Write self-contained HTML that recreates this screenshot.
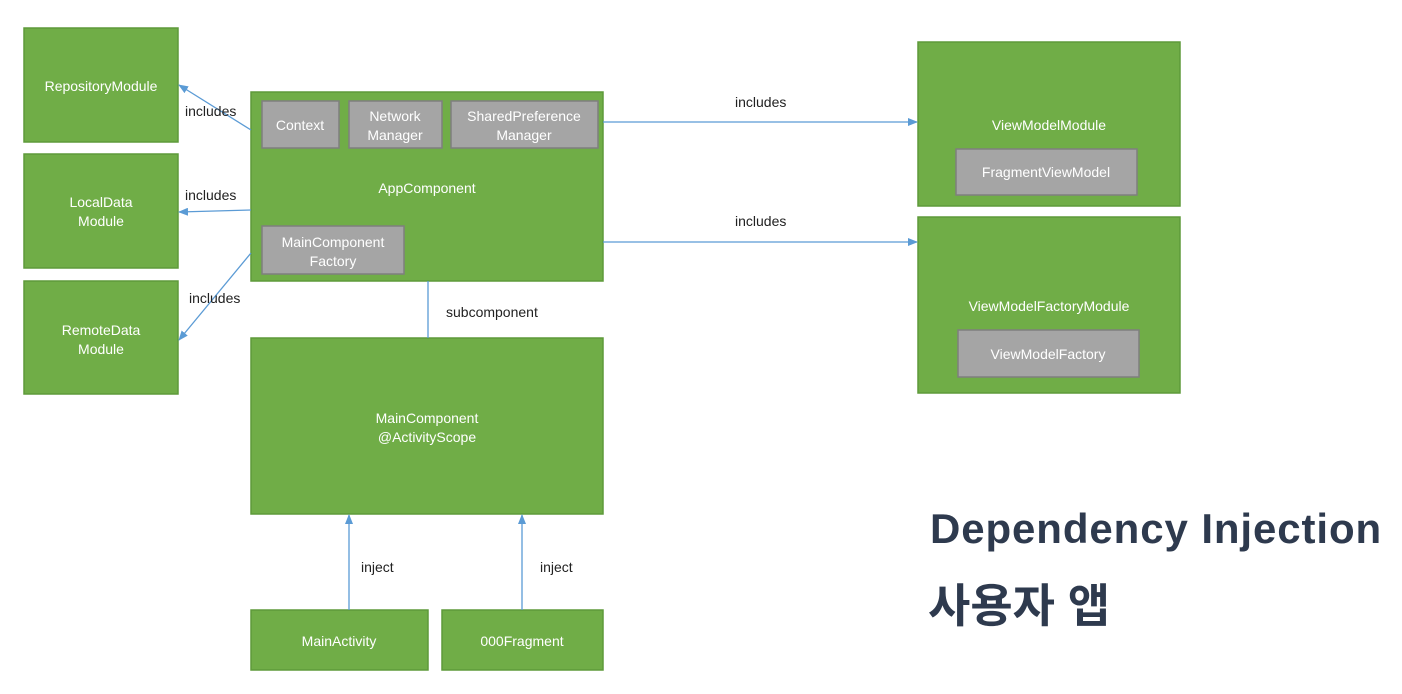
<!DOCTYPE html>
<html><head><meta charset="utf-8"><style>
html,body{margin:0;padding:0;background:#fff;width:1402px;height:694px;overflow:hidden}
svg text{font-family:"Liberation Sans","Noto Sans CJK KR",sans-serif}
</style></head><body>
<svg width="1402" height="694" viewBox="0 0 1402 694" xmlns="http://www.w3.org/2000/svg">
<defs><marker id="a" markerWidth="10" markerHeight="8" refX="9" refY="4" orient="auto" markerUnits="userSpaceOnUse"><path d="M0,0 L10,4 L0,8 z" fill="#5b9bd5"/></marker></defs>
<g fill="#70ad47" stroke="#5e9a3a" stroke-width="1.5">
<rect x="24" y="28" width="154" height="114"/>
<rect x="24" y="154" width="154" height="114"/>
<rect x="24" y="281" width="154" height="113"/>
<rect x="251" y="92" width="352" height="189"/>
<rect x="251" y="338" width="352" height="176"/>
<rect x="251" y="610" width="177" height="60"/>
<rect x="442" y="610" width="161" height="60"/>
<rect x="918" y="42" width="262" height="164"/>
<rect x="918" y="217" width="262" height="176"/>
</g>
<g fill="#a5a5a5" stroke="#7f7f7f" stroke-width="1.5">
<rect x="262" y="101" width="77" height="47"/>
<rect x="349" y="101" width="93" height="47"/>
<rect x="451" y="101" width="147" height="47"/>
<rect x="262" y="226" width="142" height="48"/>
<rect x="956" y="149" width="181" height="46"/>
<rect x="958" y="330" width="181" height="47"/>
</g>
<g stroke="#5b9bd5" stroke-width="1.3" fill="none">
<line x1="251" y1="130" x2="179" y2="85" marker-end="url(#a)"/>
<line x1="251" y1="210" x2="179" y2="212" marker-end="url(#a)"/>
<line x1="251" y1="253" x2="179" y2="340" marker-end="url(#a)"/>
<line x1="603" y1="122" x2="917" y2="122" marker-end="url(#a)"/>
<line x1="603" y1="242" x2="917" y2="242" marker-end="url(#a)"/>
<line x1="428" y1="281" x2="428" y2="338"/>
<line x1="349" y1="610" x2="349" y2="515" marker-end="url(#a)"/>
<line x1="522" y1="610" x2="522" y2="515" marker-end="url(#a)"/>
</g>
<g fill="#fff" font-size="14" text-anchor="middle">
<text x="101" y="91">RepositoryModule</text>
<text x="101" y="207">LocalData</text><text x="101" y="226">Module</text>
<text x="101" y="335">RemoteData</text><text x="101" y="354">Module</text>
<text x="427" y="193">AppComponent</text>
<text x="300" y="130">Context</text>
<text x="395" y="121">Network</text><text x="395" y="140">Manager</text>
<text x="524" y="121">SharedPreference</text><text x="524" y="140">Manager</text>
<text x="333" y="247">MainComponent</text><text x="333" y="266">Factory</text>
<text x="427" y="423">MainComponent</text><text x="427" y="442">@ActivityScope</text>
<text x="339" y="646">MainActivity</text>
<text x="522" y="646">000Fragment</text>
<text x="1049" y="130">ViewModelModule</text>
<text x="1046" y="177">FragmentViewModel</text>
<text x="1049" y="311">ViewModelFactoryModule</text>
<text x="1048" y="359">ViewModelFactory</text>
</g>
<g fill="#222" font-size="14">
<text x="185" y="116">includes</text>
<text x="185" y="200">includes</text>
<text x="189" y="303">includes</text>
<text x="735" y="107">includes</text>
<text x="735" y="226">includes</text>
<text x="446" y="317">subcomponent</text>
<text x="361" y="572">inject</text>
<text x="540" y="572">inject</text>
</g>
<text x="930" y="543" font-size="42" font-weight="bold" fill="#2e3a4e" letter-spacing="0.9">Dependency Injection</text>
<text x="928" y="622" font-size="46" font-weight="bold" fill="#2e3a4e">사용자 앱</text>
</svg>
</body></html>
